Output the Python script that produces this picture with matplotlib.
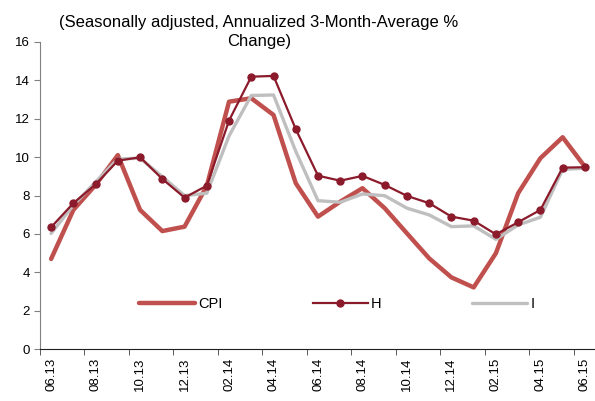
import numpy as np
import matplotlib.pyplot as plt
from matplotlib.ticker import FixedLocator

plt.rcParams['font.family'] = ['Liberation Sans', 'DejaVu Sans']

# monthly data 06.13 .. 06.15
months = ['06.13', '07.13', '08.13', '09.13', '10.13', '11.13', '12.13',
          '01.14', '02.14', '03.14', '04.14', '05.14', '06.14', '07.14',
          '08.14', '09.14', '10.14', '11.14', '12.14', '01.15', '02.15',
          '03.15', '04.15', '05.15', '06.15']
cpi = [4.7, 7.25, 8.55, 10.1, 7.25, 6.15, 6.38, 8.5, 12.88, 13.06, 12.19,
       8.64, 6.9, 7.68, 8.38, 7.34, 6.03, 4.73, 3.74, 3.22, 5.0, 8.12,
       9.94, 11.03, 9.5]
h = [6.35, 7.6, 8.58, 9.81, 9.99, 8.86, 7.89, 8.51, 11.9, 14.18, 14.22,
     11.45, 9.03, 8.77, 9.02, 8.55, 7.98, 7.6, 6.9, 6.69, 5.98, 6.61,
     7.25, 9.45, 9.47]
i_series = [6.03, 7.5, 8.7, 9.9, 9.94, 8.98, 7.99, 8.12, 11.1, 13.2, 13.23,
            10.3, 7.73, 7.65, 8.08, 7.99, 7.34, 6.99, 6.38, 6.42, 5.72, 6.47,
            6.87, 9.36, 9.42]

x = np.arange(len(months))

fig = plt.figure(figsize=(5.95, 4.01), dpi=100)
ax = fig.add_axes([40 / 595, 1 - 349.3 / 401, 556 / 595, (349.3 - 41.7) / 401])

ax.plot(x, cpi, color='#C0504D', lw=3.2, label='CPI', solid_capstyle='round')
ax.plot(x, i_series, color='#BFBFBF', lw=2.4, label='I', solid_capstyle='round')
ax.plot(x, h, color='#8B1A2B', lw=1.6, marker='o', markersize=5, label='H')

ax.set_xlim(-0.5, 24.5)
ax.set_ylim(0, 16)
ax.set_yticks(range(0, 17, 2))

# category labels every 2 months, tick marks between categories
ax.set_xticks(x[::2])
ax.set_xticklabels(months[::2], rotation=90)
ax.xaxis.set_minor_locator(FixedLocator(np.arange(-0.5, 24, 2)))
ax.tick_params(axis='x', which='major', length=0, pad=6, labelsize=9.5)
ax.tick_params(axis='x', which='minor', length=4, color='#404040')
ax.tick_params(axis='y', length=4, labelsize=9.5, color='#808080')

for s in ['top', 'right']:
    ax.spines[s].set_visible(False)
ax.spines['left'].set_color('#808080')
ax.spines['bottom'].set_color('#202020')

handles, labels = ax.get_legend_handles_labels()
order = [0, 2, 1]
ax.legend([handles[k] for k in order], [labels[k] for k in order],
          ncol=3, frameon=False, fontsize=10.5, handlelength=3.8,
          handletextpad=0.2, columnspacing=6.2,
          loc='center', bbox_to_anchor=(0.534, 0.148))

fig.text(259 / 595, 1 - 32 / 401,
         '(Seasonally adjusted, Annualized 3-Month-Average %\nChange)',
         ha='center', va='center', fontsize=12, linespacing=1.35)

plt.savefig('out.png', dpi=100)
